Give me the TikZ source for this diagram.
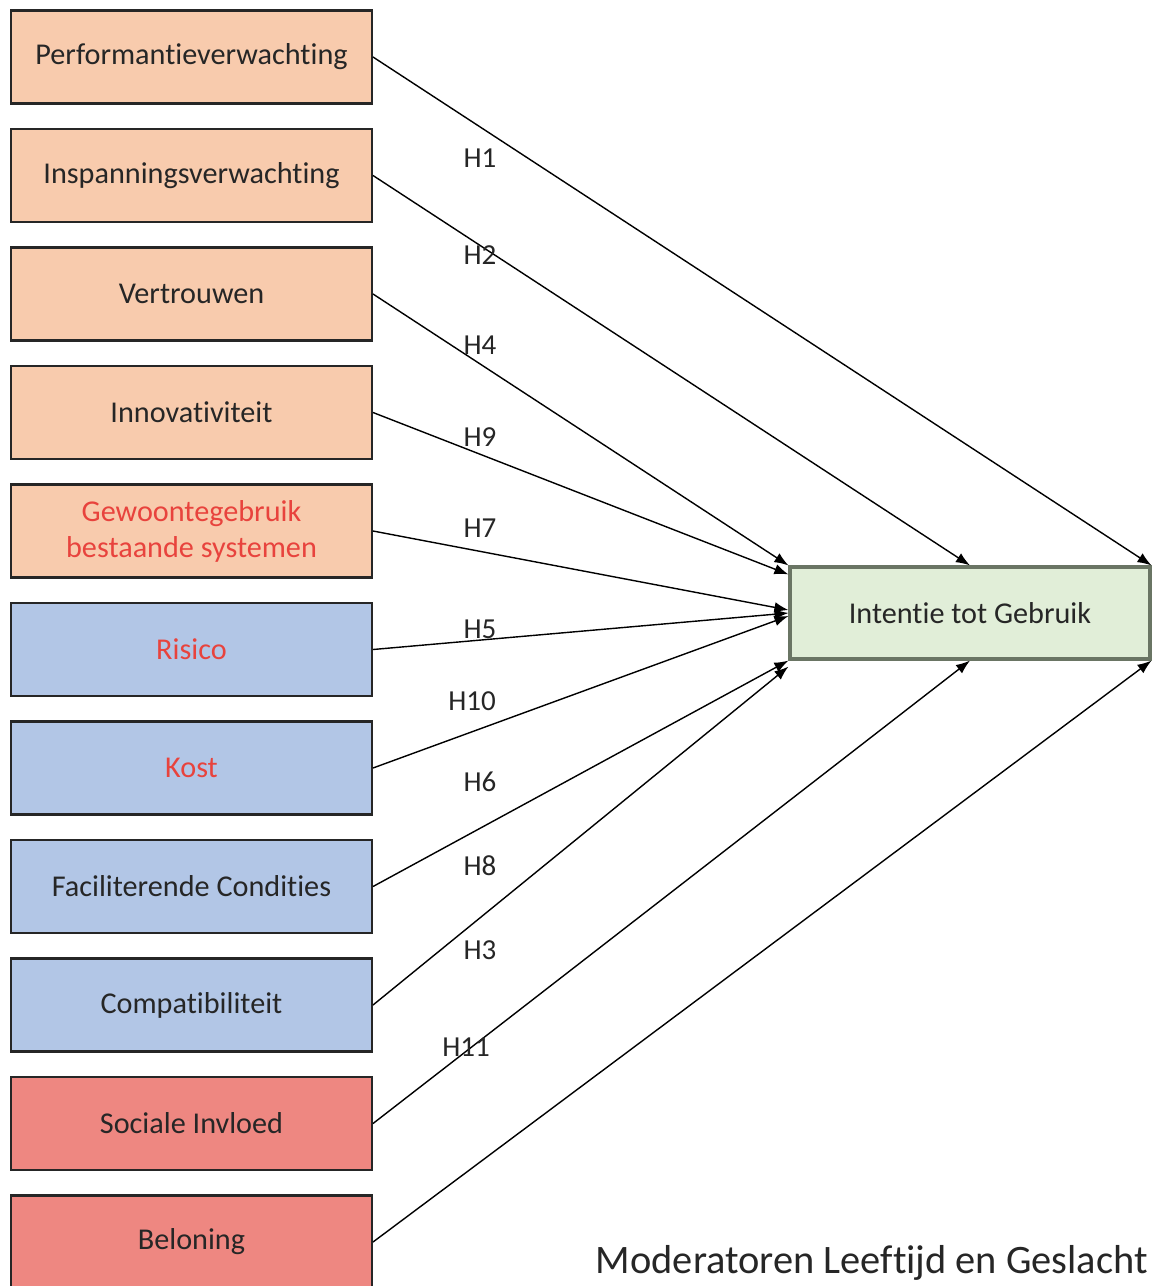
\documentclass[tikz,border=0pt]{standalone}
\usepackage{fontspec}
\setmainfont{Carlito}[Ligatures=NoCommon]
\usetikzlibrary{arrows.meta,calc}
\definecolor{peach}{HTML}{F8CBAD}
\definecolor{lblue}{HTML}{B2C6E6}
\definecolor{lred}{HTML}{EE8781}
\definecolor{lgreen}{HTML}{E1EED8}
\definecolor{ggray}{HTML}{6A7564}
\definecolor{tred}{HTML}{E8433D}
\definecolor{tdark}{HTML}{262626}

\begin{document}
\begin{tikzpicture}[x=0.02cm,y=-0.02cm,
  box/.style={draw=black!85,line width=1.2pt,minimum width=7.22cm,minimum height=1.86cm,
    inner sep=0pt,align=center,text=tdark,font=\fontsize{17.2}{20.5}\selectfont},
  arr/.style={-{Latex[length=8pt,width=6pt]},line width=0.8pt},
  hlab/.style={text=tdark,font=\fontsize{16.5}{19}\selectfont}]
\useasboundingbox (0,0) rectangle (1161,1286);
%%Factors
\node[box,fill=peach] (perf) at (191.5,57) {Performantieverwachting};
\node[box,fill=peach] (insp) at (191.5,175.5) {Inspanningsverwachting};
\node[box,fill=peach] (vertr) at (191.5,294) {Vertrouwen};
\node[box,fill=peach] (innov) at (191.5,412.5) {Innovativiteit};
\node[box,fill=peach,text=tred] (gewoon) at (191.5,531) {Gewoontegebruik\\bestaande systemen};
\node[box,fill=lblue,text=tred] (risico) at (191.5,649.5) {Risico};
\node[box,fill=lblue,text=tred] (kost) at (191.5,768) {Kost};
\node[box,fill=lblue] (facil) at (191.5,886.5) {Faciliterende Condities};
\node[box,fill=lblue] (compat) at (191.5,1005) {Compatibiliteit};
\node[box,fill=lred] (sociaal) at (191.5,1123.5) {Sociale Invloed};
\node[box,fill=lred] (belon) at (191.5,1242) {Beloning};
%%Target
\node[box,fill=lgreen,draw=ggray,line width=1.8pt,minimum width=7.2cm,minimum height=1.84cm] (intentie) at (970,613) {Intentie tot Gebruik};
%%Hypotheses
\draw[arr] (perf.east) -- (intentie.north east);
\draw[arr] (insp.east) -- (intentie.north);
\draw[arr] (vertr.east) -- (intentie.north west);
\draw[arr] (innov.east) -- ($(intentie.north west)+(0,9)$);
\draw[arr] (gewoon.east) -- ($(intentie.west)+(0,-3)$);
\draw[arr] (risico.east) -- (intentie.west);
\draw[arr] (kost.east) -- ($(intentie.west)+(0,3)$);
\draw[arr] (facil.east) -- (intentie.south west);
\draw[arr] (compat.east) -- ($(intentie.south west)+(0,6)$);
\draw[arr] (sociaal.east) -- (intentie.south);
\draw[arr] (belon.east) -- (intentie.south east);
%%Labels
\node[hlab] (h1) at (480,158) {H1};
\node[hlab] (h2) at (480,255) {H2};
\node[hlab] (h4) at (480,345) {H4};
\node[hlab] (h9) at (480,437) {H9};
\node[hlab] (h7) at (480,528) {H7};
\node[hlab] (h5) at (480,629) {H5};
\node[hlab] (h10) at (472,701) {H10};
\node[hlab] (h6) at (480,782) {H6};
\node[hlab] (h8) at (480,866) {H8};
\node[hlab] (h3) at (480,950) {H3};
\node[hlab] (h11) at (466,1047) {H11};
\node[anchor=east,text=tdark,font=\fontsize{23}{27}\selectfont] (moder) at (1154,1263) {Moderatoren Leeftijd en Geslacht};
\end{tikzpicture}
\end{document}
